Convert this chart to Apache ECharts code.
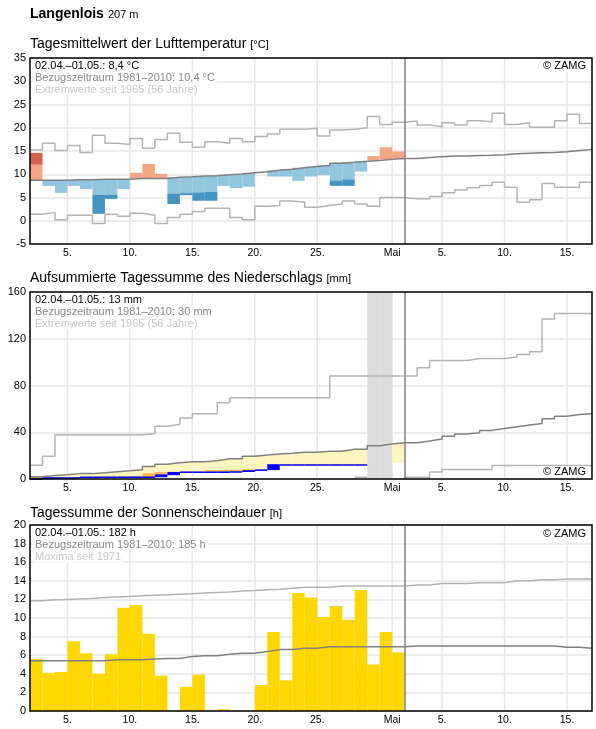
<!DOCTYPE html>
<html><head><meta charset="utf-8">
<script src="https://cdn.jsdelivr.net/npm/echarts@6/dist/echarts.min.js"></script>
<style>html,body{margin:0;padding:0;background:#fff}#c{width:596px;height:729px}</style>
</head><body><div id="c"></div>
<script>
// ---------- data ----------
const days = ['02.04.','03.04.','04.04.','05.04.','06.04.','07.04.','08.04.','09.04.','10.04.','11.04.',
  '12.04.','13.04.','14.04.','15.04.','16.04.','17.04.','18.04.','19.04.','20.04.','21.04.',
  '22.04.','23.04.','24.04.','25.04.','26.04.','27.04.','28.04.','29.04.','30.04.','01.05.',
  '02.05.','03.05.','04.05.','05.05.','06.05.','07.05.','08.05.','09.05.','10.05.','11.05.',
  '12.05.','13.05.','14.05.','15.05.','16.05.'];
const tickDates = ['05.04.','10.04.','15.04.','20.04.','25.04.','01.05.','05.05.','10.05.','15.05.'];
const tickLabels = ['5.','10.','15.','20.','25.','Mai','5.','10.','15.'];
const todayDate = '02.05.';

// temperature (°C)
const tempActual = [14.6,7.5,6.0,7.5,6.8,1.5,4.7,6.8,10.3,12.2,10.1,3.6,5.5,4.3,4.3,7.5,7.0,7.3,10.55,9.5,
  9.5,8.6,9.5,9.8,7.5,7.5,10.6,13.9,15.8,14.9];
const tempNormal = [8.7,8.7,8.7,8.8,8.8,8.9,8.9,8.9,9.1,9.1,9.1,9.35,9.45,9.6,9.7,9.9,10.05,10.3,10.55,10.85,
  11.1,11.4,11.65,11.9,12.35,12.6,12.8,12.95,13.2,13.4,13.4,13.6,13.75,13.9,13.95,14.05,14.1,14.2,14.4,14.5,
  14.6,14.7,14.85,15.1,15.35];
const tempSigma = [3.35,3.35,3.35,3.35,3.35,3.35,3.35,3.35,3.4,3.4,3.4,3.5,3.5,3.5,3.5,3.5,3.6,3.6,3.6,3.6,
  3.6,3.6,3.6,3.6,3.7,3.7,3.7,3.7,3.7,3.7];
const tempMax = [15.2,16.65,15.1,16.2,14.7,18.4,16.65,16.4,17.7,15.6,17.5,18.8,16.9,15.8,17.0,16.65,17.7,17.0,18.1,18.65,
  19.7,19.7,19.9,18.2,19.5,19.7,20.0,22.4,20.7,21.2,21.45,20.6,20.2,21.1,20.6,21.5,21.3,23.1,20.7,21.1,
  20.1,20.1,21.5,22.9,20.9];
const tempMin = [1.4,1.8,0.2,1.2,1.2,-0.6,1.4,0.95,1.6,1.2,-0.6,0.7,1.4,2.0,2.7,2.7,0.7,0.2,3.1,3.3,
  4.25,4.0,2.9,3.3,3.6,4.25,3.6,3.1,5.0,5.0,4.75,4.75,5.2,6.0,6.6,7.1,7.6,8.3,7.2,4.0,
  4.5,8.0,7.2,7.2,8.3];

// precipitation, accumulated (mm)
const precActual = [0.0,0.9,0.9,0.9,1.5,1.5,1.5,1.5,1.5,1.5,3.3,5.3,5.8,5.8,5.8,5.8,6.0,6.9,7.6,12.0,
  12.0,12.0,12.0,12.0,12.0,12.0,12.0,null,null,13.5];
const precLow = [2.0,0.5,0.5,0.6,0.7,0.8,1.0,2.3,2.6,5.0,5.9,6.2,6.3,6.3,7.6,7.7,8.0,8.4,7.4,7.5,
  7.8,8.0,8.2,8.4,8.6,8.8,9.0,null,null,9.5];
const precNormal = [2.0,2.9,3.7,4.6,4.6,5.4,6.3,7.1,8.0,10.8,12.6,14.0,14.8,14.8,15.7,17.4,17.4,19.4,20.5,21.4,
  22.0,22.8,22.8,23.7,23.7,25.4,25.4,28.5,29.9,31.1,31.1,32.5,34.2,36.5,38.5,39.6,41.6,43.3,44.8,46.2,
  47.4,51.6,53.6,55.1,55.9];
const precMax = [11.7,19.4,37.9,37.9,37.9,37.9,37.9,37.9,37.9,38.8,45.1,46.8,52.2,55.9,55.9,65.3,69.6,69.6,69.6,69.6,
  69.6,69.6,69.6,69.6,88.1,88.1,88.1,88.1,88.1,88.1,88.1,95.2,101.4,101.4,101.4,103.1,103.1,103.1,104.3,106.6,
  108.9,136.9,141.5,141.5,141.5];
const precMin = [null,null,null,null,null,null,null,null,null,null,null,null,null,null,null,null,null,null,null,null,
  null,null,null,null,null,null,1.5,null,null,null,1.4,1.4,6.0,8.1,8.1,8.1,8.1,11.5,11.5,11.5,
  11.5,11.5,11.5,11.5,11.5];

// sunshine (h)
const sunActual = [5.6,4.1,4.2,7.5,6.2,4.0,6.1,11.1,11.4,8.3,3.8,0,2.6,3.9,0,0.2,0,0,2.8,8.5,
  3.3,12.7,12.2,10.1,11.3,9.8,13.0,5.0,8.5,6.3];
const sunNormal = [5.4,5.4,5.4,5.4,5.4,5.4,5.5,5.5,5.5,5.6,5.65,5.65,5.85,5.95,5.95,6.1,6.2,6.2,6.4,6.6,
  6.6,6.75,6.75,6.9,6.9,6.9,6.9,6.9,6.9,6.9,7.0,7.0,7.0,7.0,7.0,7.0,7.0,7.0,7.0,7.0,
  7.0,7.0,6.85,6.85,6.75];
const sunMax = [11.85,11.95,12.0,12.05,12.1,12.2,12.25,12.3,12.4,12.45,12.5,12.55,12.6,12.7,12.75,12.8,12.9,12.95,13.05,13.1,
  13.2,13.3,13.3,13.3,13.45,13.45,13.45,13.45,13.45,13.45,13.55,13.55,13.7,13.7,13.7,13.8,13.8,13.8,14.0,14.0,
  14.1,14.1,14.2,14.2,14.2];

// ---------- styling / layout ----------
const F = '"Liberation Sans", Arial, Helvetica, sans-serif';
const C = {warm1:'#f4a582', warm2:'#d6604d', cold1:'#92c5de', cold2:'#4393c3', normal:'#808080',
  extreme:'#b4b4b4', grid:'#e6e6e6', yellow:'#fff6bf', orange:'#fdb94e', blue:'#0000ff', gap:'#dcdcdc', sun:'#ffd700'};
const L = 30, R = 4, PW = 596 - L - R;
const panels = [{top:58, height:186}, {top:292, height:187}, {top:525, height:186}];
const yRanges = [[-5, 35, 5], [0, 160, 40], [0, 20, 2]];
const precAxisMax = yRanges[1][1];

const tickPos = tickDates.map(d => days.indexOf(d));
const todayIdx = days.indexOf(todayDate);

function step(arr) {
  const out = [];
  arr.forEach((v, i) => {
    if (v == null) out.push([i, null]);
    else { out.push([i, v]); out.push([i + 1, v]); }
  });
  return out;
}
function bad(v) { return v == null || isNaN(v); }

function xAx(i) {
  return {type:'value', gridIndex:i, min:0, max:days.length,
    axisLine:{show:false}, axisTick:{show:false},
    axisLabel:{customValues:tickPos, formatter:v => tickLabels[tickPos.indexOf(v)] || '',
      fontSize:10.5, color:'#000', margin:4, fontFamily:F},
    splitLine:{show:false}};
}
function yAx(i) {
  const [min, max, interval] = yRanges[i];
  return {type:'value', gridIndex:i, min, max, interval,
    axisLine:{show:false}, axisTick:{show:false},
    axisLabel:{fontSize:11, color:'#000', margin:4, fontFamily:F},
    splitLine:{show:true, lineStyle:{color:C.grid, width:1.5}}};
}
// vertical grid lines at the labelled dates, drawn through the axis scale
function vGrid(i) {
  const [min, max] = yRanges[i];
  return {type:'custom', xAxisIndex:i, yAxisIndex:i, silent:true, z:1,
    data: tickPos.map(p => [p, min, max]), encode:{x:0, y:1},
    renderItem(params, api) {
      const a = api.coord([api.value(0), api.value(1)]), b = api.coord([api.value(0), api.value(2)]);
      return {type:'line', shape:{x1:a[0], y1:a[1], x2:b[0], y2:b[1]}, style:{stroke:C.grid, lineWidth:1.5}};
    }};
}
function stepLine(i, arr, color, extra) {
  return Object.assign({type:'line', xAxisIndex:i, yAxisIndex:i, data:step(arr), showSymbol:false,
    symbol:'none', connectNulls:false, silent:true,
    lineStyle:{color, width:1.5}}, extra || {});
}
const todayMark = {silent:true, symbol:['none','none'], label:{show:false},
  lineStyle:{color:'#808080', width:1.5, type:'solid'}, data:[{xAxis: todayIdx}]};

function rect(api, d, a, b, fill) {
  const p1 = api.coord([d, b]), p2 = api.coord([d + 1, a]);
  return {type:'rect', shape:{x:p1[0], y:p1[1], width:p2[0]-p1[0], height:p2[1]-p1[1]}, style:{fill}};
}

const series = [
  vGrid(0), vGrid(1), vGrid(2),
  // ---- temperature ----
  {type:'custom', xAxisIndex:0, yAxisIndex:0, silent:true,
    data: tempActual.map((v, i) => [i, tempNormal[i], v, tempSigma[i]]),
    encode:{x:0, y:2},
    renderItem(params, api) {
      const d = api.value(0), n = api.value(1), v = api.value(2), s = api.value(3);
      const ch = [];
      if (v > n) { const t = n + s; ch.push(rect(api, d, n, Math.min(v, t), C.warm1)); if (v > t) ch.push(rect(api, d, t, v, C.warm2)); }
      else if (v < n) { const t = n - s; ch.push(rect(api, d, Math.max(v, t), n, C.cold1)); if (v < t) ch.push(rect(api, d, v, t, C.cold2)); }
      return {type:'group', children:ch};
    }},
  stepLine(0, tempMax, C.extreme),
  stepLine(0, tempMin, C.extreme),
  stepLine(0, tempNormal, C.normal, {markLine: todayMark}),

  // ---- precipitation ----
  {type:'custom', xAxisIndex:1, yAxisIndex:1, silent:true,
    data: precNormal.slice(0, precActual.length).map((n, i) => [i, n, precActual[i], precLow[i]]),
    encode:{x:0, y:1},
    renderItem(params, api) {
      const d = api.value(0), n = api.value(1), v = api.value(2), t = api.value(3);
      if (bad(v)) return {type:'group', children:[rect(api, d, 0, precAxisMax, C.gap)]};
      const ch = [];
      const lo = (!bad(t) && t > v) ? t : v;
      if (n > lo) ch.push(rect(api, d, lo, n, C.yellow));
      if (!bad(t) && t > v) ch.push(rect(api, d, v, Math.min(t, n), C.orange));
      return {type:'group', children:ch};
    }},
  stepLine(1, precMax, C.extreme),
  stepLine(1, precMin, C.extreme),
  stepLine(1, precNormal, C.normal, {markLine: todayMark}),
  {type:'custom', xAxisIndex:1, yAxisIndex:1, silent:true,
    data: precActual.map((v, i) => [i, i === 0 ? 0 : precActual[i-1], v]),
    encode:{x:0, y:2},
    renderItem(params, api) {
      const d = api.value(0), p = api.value(1), v = api.value(2);
      if (bad(v) || bad(p)) return null;
      const a = api.coord([d, v]), b = api.coord([d + 1, p]);
      return {type:'rect', shape:{x:a[0], y:a[1] - 0.75, width:b[0]-a[0], height:Math.max(1.5, b[1]-a[1]+0.75)}, style:{fill:C.blue}};
    }},

  // ---- sunshine ----
  {type:'custom', xAxisIndex:2, yAxisIndex:2, silent:true,
    data: sunActual.map((v, i) => [i, v]),
    encode:{x:0, y:1},
    renderItem(params, api) {
      const d = api.value(0), v = api.value(1);
      if (!(v > 0)) return null;
      return rect(api, d, 0, v, C.sun);
    }},
  stepLine(2, sunMax, C.extreme),
  stepLine(2, sunNormal, C.normal, {markLine: todayMark}),
];

// ---------- texts ----------
const mctx = document.createElement('canvas').getContext('2d');
function tw(text, font) { mctx.font = font; return mctx.measureText(text).width; }
const g = [];
function txt(text, x, y, size, opts) {
  const o = Object.assign({color:'#000', weight:'normal', align:'left', bg:null}, opts || {});
  const font = o.weight + ' ' + size + 'px ' + F;
  const st = {text, x, y, font, fill:o.color, textAlign:o.align, textVerticalAlign:'middle'};
  if (o.bg) { st.backgroundColor = o.bg; st.padding = [1, 2, 0, 2]; }
  g.push({type:'text', z:100, silent:true, style:st});
  return tw(text, font);
}
// headline
const w0 = txt('Langenlois', L, 14.3, 14, {weight:'bold'});
txt('207 m', L + w0 + 4, 15.2, 11);
const titles = [
  ['Tagesmittelwert der Lufttemperatur', '[°C]', 44],
  ['Aufsummierte Tagessumme des Niederschlags', '[mm]', 278],
  ['Tagessumme der Sonnenscheindauer', '[h]', 513]];
titles.forEach(([t, u, y]) => { const w = txt(t, L, y, 14); txt(u, L + w + 4, y + 0.9, 11); });

const info = [
  ['02.04.–01.05.: 8,4 °C', 'Bezugszeitraum 1981–2010: 10,4 °C', 'Extremwerte seit 1965 (56 Jahre)'],
  ['02.04.–01.05.: 13 mm', 'Bezugszeitraum 1981–2010: 30 mm', 'Extremwerte seit 1965 (56 Jahre)'],
  ['02.04.–01.05.: 182 h', 'Bezugszeitraum 1981–2010: 185 h', 'Maxima seit 1971']];
const infoCol = ['#000', '#888888', '#c8c8c8'];
info.forEach((lines, p) => {
  lines.forEach((s, k) => txt(s, L + 3, panels[p].top + 7.5 + 12 * k, 11, {color:infoCol[k], bg:'#fff'}));
});
const zamgY = [panels[0].top + 8, panels[1].top + panels[1].height - 7, panels[2].top + 8.5];
zamgY.forEach(y => txt('© ZAMG', L + PW - 4, y, 11, {align:'right', bg:'#fff'}));

// panel borders
panels.forEach(p => g.push({type:'rect', z:110, silent:true,
  shape:{x:L, y:p.top, width:PW, height:p.height}, style:{fill:null, stroke:'#000', lineWidth:1.5}}));

const chart = echarts.init(document.getElementById('c'), null, {renderer:'canvas'});
chart.setOption({
  animation:false,
  backgroundColor:'#fff',
  grid: panels.map(p => ({left:L, width:PW, top:p.top, height:p.height, containLabel:false})),
  xAxis: [xAx(0), xAx(1), xAx(2)],
  yAxis: [yAx(0), yAx(1), yAx(2)],
  series,
  graphic: {elements: g}
});
</script>
</body></html>
